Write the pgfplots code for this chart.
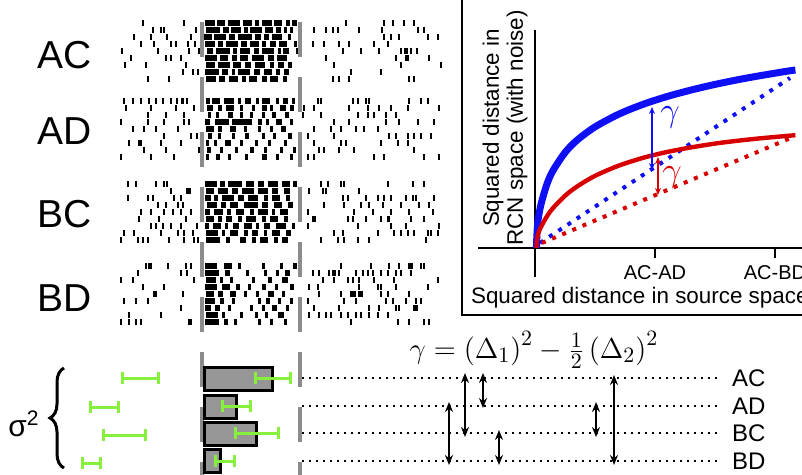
\documentclass[border=0pt]{standalone}
\usepackage[no-math]{fontspec}
\setmainfont{Liberation Sans}
\usepackage{pgfplots}
\pgfplotsset{compat=1.18}
\usetikzlibrary{arrows.meta,decorations.pathreplacing}

\definecolor{cblue}{RGB}{15,15,245}
\definecolor{cred}{RGB}{215,0,0}
\definecolor{cgreen}{RGB}{135,240,60}
\definecolor{bargray}{RGB}{150,150,150}
\definecolor{linegray}{RGB}{140,140,140}

\pgfplotsset{
  spk/.style={black, line width=3pt, -, quiver={u=\thisrow{w}, v=0}},
  seg/.style={quiver={u=\thisrow{u}, v=\thisrow{v}}},
}
% one raster row: y position, then "start length" pairs (pixels)
\newcommand{\R}[2]{\addplot[spk] table[row sep=\\, y expr=#1]{x w\\#2\\};}

\begin{document}
\begin{tikzpicture}
\useasboundingbox (0,0) rectangle (401pt,237.5pt);

% ---------------- raster + bottom panel (pixel coordinates) ----------------
\begin{axis}[at={(0,0)}, anchor=south west, x=0.5pt, y=0.5pt,
  xmin=0, xmax=802, ymin=0, ymax=475, y dir=reverse, hide axis, clip=false]

% AC
\R{23}{142 2\\183 2\\205 10\\217 8\\228 12\\243 9\\255 4\\262 10\\274 8\\286 4\\292 5\\345 2\\383 2\\392 2\\403 2\\413 2}
\R{30}{152 2\\160 2\\163 2\\195 2\\206 14\\223 6\\231 10\\244 4\\250 12\\265 8\\276 5\\284 3\\290 3\\313 2\\325 2\\332 2\\337 2\\358 2\\381 2\\417 2\\423 2}
\R{37}{133 2\\150 2\\166 2\\190 2\\204 8\\214 12\\229 6\\238 14\\255 6\\264 5\\272 10\\288 3\\383 2\\390 2\\398 2\\427 2\\437 2}
\R{44}{140 2\\153 2\\170 2\\175 2\\187 2\\194 2\\205 10\\218 5\\226 12\\241 6\\250 9\\262 4\\270 6\\279 8\\294 3\\312 2\\323 2\\338 2\\348 2\\373 2\\387 2}
\R{51}{121 2\\157 2\\188 2\\198 2\\207 6\\216 14\\233 4\\240 10\\254 5\\262 12\\278 3\\283 6\\296 3\\342 2\\360 2\\378 2\\400 2\\404 4\\410 2\\416 2}
\R{58}{130 2\\165 2\\170 2\\180 2\\205 12\\220 8\\232 5\\240 8\\252 12\\268 6\\277 10\\325 2\\395 2\\405 4\\428 2}
\R{65}{124 2\\145 2\\185 2\\206 9\\218 12\\233 8\\245 6\\255 10\\270 4\\278 6\\288 4\\333 2\\400 2\\440 2}
\R{72}{182 2\\192 2\\197 2\\205 14\\222 6\\232 3\\238 12\\254 6\\264 8\\276 4\\284 5\\350 2\\380 2}
\R{79}{147 2\\168 2\\206 10\\219 6\\229 9\\242 4\\249 8\\262 5\\270 8\\283 4\\332 2\\338 2\\348 2\\408 2\\413 2}
% AD
\R{101}{123 2\\132 2\\140 2\\148 2\\155 2\\162 2\\170 2\\176 2\\181 3\\186 2\\206 4\\212 8\\224 10\\238 3\\245 6\\256 3\\262 8\\276 3\\283 5\\292 3\\317 2\\320 2\\352 2\\357 2\\365 2\\368 2\\408 2\\420 2\\427 2}
\R{108}{125 2\\150 2\\175 2\\193 2\\207 6\\218 4\\226 8\\240 3\\252 3\\262 5\\270 3\\280 6\\290 4\\303 2\\313 2\\348 2\\367 2\\378 2\\390 2\\407 2\\438 2}
\R{115}{147 2\\165 2\\183 2\\208 3\\216 3\\228 5\\240 3\\250 3\\262 3\\272 4\\285 4\\302 2\\320 2\\357 2\\367 2\\373 2\\385 2\\395 2}
\R{122}{120 2\\147 2\\163 2\\183 2\\188 2\\205 5\\215 14\\232 20\\258 4\\266 3\\276 6\\290 3\\333 2\\348 2\\385 2\\398 2\\417 2\\433 2}
\R{129}{132 2\\143 2\\155 2\\177 2\\206 8\\218 4\\230 6\\244 3\\258 3\\270 3\\281 5\\313 2\\330 2\\340 2\\355 2\\363 2\\377 2}
\R{136}{163 2\\190 2\\196 2\\208 4\\218 3\\232 3\\245 4\\262 3\\273 3\\288 4\\307 2\\333 2\\388 2\\395 2\\407 2\\413 2\\420 2\\430 2}
\R{143}{128 2\\138 4\\160 2\\180 2\\206 3\\214 3\\225 6\\240 3\\255 3\\268 3\\284 3\\313 2\\340 2\\345 2\\380 2\\397 2\\407 2}
\R{150}{143 2\\165 2\\198 2\\207 4\\220 3\\235 3\\250 4\\264 3\\280 3\\293 3\\318 2\\323 2\\338 2\\353 2\\413 2}
\R{157}{120 2\\150 2\\173 2\\206 3\\216 4\\228 3\\245 3\\262 5\\276 3\\290 3\\307 2\\313 2\\373 2\\383 2\\423 2\\438 2}
% BC
\R{184}{127 2\\135 2\\155 2\\163 2\\166 2\\205 12\\220 5\\228 14\\246 8\\258 6\\268 10\\282 8\\293 4\\320 2\\327 2\\340 2\\343 2\\387 2\\412 2\\423 2}
\R{191}{170 2\\186 5\\206 8\\218 10\\232 6\\242 12\\258 10\\272 6\\284 6\\308 2\\322 2\\325 2\\358 2}
\R{198}{127 2\\147 2\\152 2\\173 2\\180 2\\205 6\\214 4\\222 12\\238 6\\248 10\\264 4\\272 8\\286 4\\342 2\\347 2\\365 2\\377 2\\383 2\\390 2\\405 2\\412 2\\415 2\\433 2}
\R{205}{157 2\\165 2\\177 2\\182 2\\207 10\\221 5\\230 8\\244 14\\262 6\\274 8\\288 5\\323 2\\343 2\\360 2\\368 2\\382 2\\400 2\\418 2\\428 2}
\R{212}{140 2\\150 2\\163 2\\172 2\\180 2\\190 2\\205 5\\214 9\\227 4\\236 8\\250 4\\258 10\\272 3\\280 8\\307 2\\353 2\\372 2\\390 2\\408 2\\432 2}
\R{219}{138 2\\158 2\\185 2\\206 8\\218 4\\226 6\\238 4\\246 10\\262 4\\270 8\\284 4\\312 4\\347 2\\352 2\\365 2\\380 2\\387 3\\410 2\\423 2}
\R{226}{150 2\\155 2\\162 2\\170 2\\180 2\\196 2\\205 4\\213 8\\225 3\\233 6\\244 8\\256 3\\264 6\\276 10\\292 3\\307 2\\357 2\\390 2\\405 2\\438 2}
\R{233}{123 2\\133 2\\160 2\\177 2\\183 2\\192 2\\206 12\\222 3\\230 8\\244 4\\252 6\\264 3\\272 8\\286 5\\333 2\\342 2\\377 2\\393 2\\400 2\\407 2\\413 2\\427 2\\430 2\\437 2}
\R{240}{120 2\\137 2\\142 2\\147 2\\168 2\\183 2\\193 2\\197 2\\206 14\\226 4\\240 6\\252 4\\260 8\\274 4\\282 6\\320 2\\337 2\\343 2\\357 2\\368 2\\425 2}
% BD
\R{266}{145 2\\148 2\\150 2\\167 2\\185 2\\190 2\\205 12\\224 8\\238 3\\262 3\\280 3\\293 4\\340 2\\370 2\\388 2\\398 2\\408 5\\420 2\\423 2}
\R{273}{137 2\\180 2\\186 2\\205 14\\225 5\\246 3\\264 3\\276 3\\285 5\\312 2\\318 2\\328 2\\332 4\\338 2\\355 2\\362 2\\367 2\\372 2\\380 2\\387 2\\395 2\\400 2\\410 2}
\R{280}{120 2\\132 2\\193 2\\206 10\\220 3\\230 3\\252 3\\268 4\\282 6\\322 2\\333 2\\347 2\\352 2\\358 2\\373 2\\393 2\\437 2}
\R{287}{142 2\\163 2\\205 12\\222 8\\236 4\\248 3\\262 4\\275 3\\290 4\\308 2\\317 2\\358 2\\377 2\\380 2\\395 2\\427 2}
\R{294}{153 4\\182 2\\206 8\\218 5\\230 6\\244 3\\256 3\\268 6\\282 3\\318 2\\340 2\\350 6\\358 5\\380 2\\387 2\\408 2}
\R{301}{123 2\\135 2\\147 2\\205 10\\220 4\\232 3\\258 3\\266 4\\278 3\\290 3\\307 2\\343 2\\355 2\\385 2\\392 2\\405 2\\415 2\\420 2}
\R{308}{180 2\\205 6\\215 5\\228 3\\250 3\\262 3\\272 5\\286 3\\313 2\\338 2\\368 2\\378 2\\395 2\\398 2\\413 5}
\R{315}{128 2\\160 2\\206 12\\222 3\\240 3\\255 3\\265 3\\278 6\\308 2\\318 2\\325 2\\330 2\\340 2\\347 2\\355 2\\360 2\\368 2\\377 2\\387 2}
\R{322}{120 2\\128 2\\135 2\\140 2\\188 4\\205 14\\224 4\\234 3\\258 3\\270 3\\284 3\\350 2\\397 2\\408 2\\423 2\\428 2}

% stimulus window
\addplot[linegray, line width=2.2pt, dash pattern=on 17.5pt off 10pt] coordinates {(202,22) (202,475)};
\addplot[linegray, line width=2.2pt, dash pattern=on 17.5pt off 10pt] coordinates {(300,22) (300,475)};

% spike-count bars
\addplot[fill=bargray, draw=black, line width=1.5pt] coordinates {(204,367) (272,367) (272,390) (204,390)} -- cycle;
\addplot[fill=bargray, draw=black, line width=1.5pt] coordinates {(204,395) (236,395) (236,418) (204,418)} -- cycle;
\addplot[fill=bargray, draw=black, line width=1.5pt] coordinates {(204,422) (256,422) (256,445) (204,445)} -- cycle;
\addplot[fill=bargray, draw=black, line width=1.5pt] coordinates {(204,449) (220,449) (220,472) (204,472)} -- cycle;

% dotted guide lines
\addplot[black, line width=1pt, dash pattern=on 1pt off 2.5pt, seg] table[row sep=\\]{x y u v\\
302 378 420 0\\ 302 406 420 0\\ 302 433 420 0\\ 302 461 420 0\\};

% variance error bars
\addplot[cgreen, line width=1.5pt, seg] table[row sep=\\]{x y u v\\
122 378 36 0\\ 122 372 0 12\\ 158 372 0 12\\
90 407 28 0\\ 90 401 0 12\\ 118 401 0 12\\
103 435 42 0\\ 103 429 0 12\\ 145 429 0 12\\
82 463 18 0\\ 82 457 0 12\\ 100 457 0 12\\
255 378 35 0\\ 255 372 0 12\\ 290 372 0 12\\
222 406 28 0\\ 222 400 0 12\\ 250 400 0 12\\
235 433 43 0\\ 235 427 0 12\\ 278 427 0 12\\
215 461 19 0\\ 215 455 0 12\\ 234 455 0 12\\};

% distance arrows
\addplot[black, line width=1.4pt, {Stealth[length=5pt,width=4pt]}-{Stealth[length=5pt,width=4pt]}, seg] table[row sep=\\]{x y u v\\
449 402 0 63\\ 465 373 0 64\\ 483 373 0 35\\ 499 430 0 35\\ 596 402 0 35\\ 614 375 0 90\\};

% panel frame
\addplot[black, line width=1pt] coordinates {(462,0) (462,315) (802,315)};

% brace for sigma^2
\draw[decorate, decoration={brace, amplitude=7pt}, line width=1.5pt]
  (axis cs:64,468) -- (axis cs:64,368);

% text
\node[font=\fontsize{19.5}{22}\selectfont] at (axis cs:65,55) {AC};
\node[font=\fontsize{19.5}{22}\selectfont] at (axis cs:65,131) {AD};
\node[font=\fontsize{19.5}{22}\selectfont] at (axis cs:65,214) {BC};
\node[font=\fontsize{19.5}{22}\selectfont] at (axis cs:65,298) {BD};
\node[anchor=west, font=\fontsize{12}{14}\selectfont] at (axis cs:725,378) {AC};
\node[anchor=west, font=\fontsize{12}{14}\selectfont] at (axis cs:725,406) {AD};
\node[anchor=west, font=\fontsize{12}{14}\selectfont] at (axis cs:725,433) {BC};
\node[anchor=west, font=\fontsize{12}{14}\selectfont] at (axis cs:725,461) {BD};
\node[inner sep=0pt, font=\fontsize{15}{17}\selectfont] at (axis cs:24,424) {σ\textsuperscript{2}};
\node[font=\fontsize{15}{18}\selectfont] at (axis cs:534,350)
  {$\gamma = \left(\Delta_1\right)^2 - \frac{1}{2}\left(\Delta_2\right)^2$};
\node[anchor=west, font=\fontsize{11.2}{13}\selectfont] at (axis cs:464,298) {Squared distance in source space};
\node[rotate=90, align=center, font=\fontsize{11.2}{12}\selectfont] at (axis cs:505,128)
  {Squared distance in\\RCN space (with noise)};
\end{axis}

% ---------------- distance curves ----------------
\begin{axis}[at={(239pt,99pt)}, anchor=south west, x=60pt, y=60pt,
  xmin=-0.475, xmax=2.225, ymin=-0.2417, ymax=1.8167,
  axis lines=middle, axis line style={-, line width=0.9pt},
  xtick={1,2}, xticklabels={AC-AD,AC-BD}, ytick=\empty,
  tick align=outside, major tick length=5pt,
  tick style={line width=0.9pt, black},
  ticklabel style={font=\fontsize{10}{12}\selectfont},
  clip=false]
\addplot[cblue, line width=2pt, dash pattern=on 2pt off 3.5pt] coordinates {(0.042,0.042) (2.125,1.417)};
\addplot[cred, line width=2pt, dash pattern=on 2pt off 3.5pt] coordinates {(0.058,0.042) (2.15,0.925)};
\addplot[cblue, line width=3.5pt, smooth] coordinates {
  (0.012,0) (0.016,0.111) (0.025,0.23) (0.05,0.364) (0.1,0.534) (0.15,0.645) (0.25,0.795)
  (0.35,0.898) (0.5,1.009) (0.7,1.116) (0.9,1.197) (1.1,1.262) (1.3,1.316) (1.5,1.363)
  (1.7,1.404) (1.9,1.44) (2.1,1.473) (2.17,1.483)};
\addplot[cred, line width=2.2pt, smooth] coordinates {
  (0.012,0) (0.016,0.064) (0.025,0.115) (0.05,0.176) (0.1,0.265) (0.15,0.333) (0.25,0.435)
  (0.35,0.512) (0.5,0.601) (0.7,0.687) (0.9,0.751) (1.1,0.8) (1.3,0.838) (1.5,0.87)
  (1.7,0.895) (1.9,0.916) (2.17,0.94)};
\addplot[cblue, line width=0.75pt, {Stealth[length=3.5pt,width=3pt]}-{Stealth[length=3.5pt,width=3pt]}] coordinates {(0.975,1.175) (0.975,0.65)};
\addplot[cred, line width=0.75pt, {Stealth[length=3.5pt,width=3pt]}-{Stealth[length=3.5pt,width=3pt]}] coordinates {(1.025,0.758) (1.025,0.442)};
\node[cblue, font=\fontsize{17}{20}\selectfont] at (axis cs:1.125,1.092) {$\gamma$};
\node[cred, font=\fontsize{17}{20}\selectfont] at (axis cs:1.142,0.592) {$\gamma$};
\end{axis}
\end{tikzpicture}
\end{document}
